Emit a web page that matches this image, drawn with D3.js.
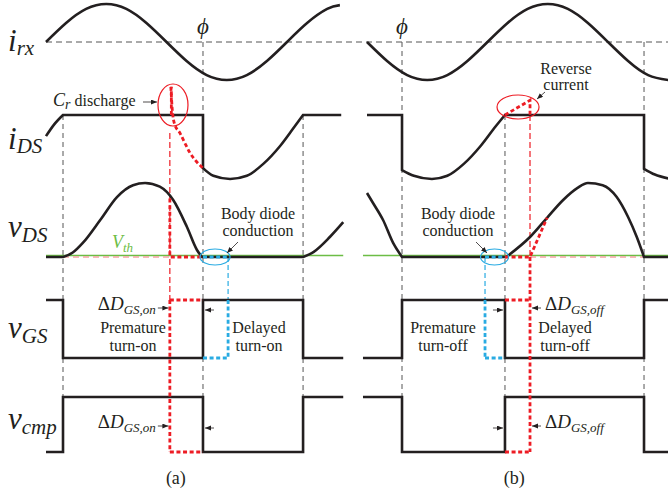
<!DOCTYPE html>
<html><head><meta charset="utf-8">
<script src="https://cdn.jsdelivr.net/npm/d3@7"></script>
<style>body{margin:0;background:#fff}svg{display:block;font-family:'Liberation Serif','Times New Roman',serif}</style>
</head><body><svg id="c" width="668" height="495"></svg>
<script>
// ================= DATA =================
const rowLabels = [["i","rx"],["i","DS"],["v","DS"],["v","GS"],["v","cmp"]];
const panelLabels = ["(a)","(b)"];

// event instants, in electrical degrees of each panel
const evA = {start:0, rise:25.4, phi:234.5, next:384, early:185, bodyEnd:272, end:444};
const evB = {start:174, first:180, phi:232.3, edge:386.1, next:593.8, late:423.5, bodyStart:356.3, end:630};

// receiver current i_rx (normalised)
const irxA = [[0,0],[30,0.5],[60,0.87],[90,1],[120,0.87],[150,0.5],[180,0],[210,-0.5],[240,-0.87],[270,-1],[300,-0.87],[330,-0.5],[360,0],[390,0.5],[420,0.87],[439,0.97]];
const irxB = [[180,0],[210,-0.5],[240,-0.87],[270,-1],[300,-0.87],[330,-0.5],[360,0],[390,0.5],[420,0.87],[450,1],[480,0.87],[510,0.5],[540,0],[570,-0.5],[600,-0.87],[630,-1]];

// drain current i_DS (1 = conduction level)
const idsA_rise   = [[0,0.67],[12,0.85],[25.4,1]];
const idsA_flat   = [[25.4,1],[234.5,1],[234.5,0.17]];
const idsA_valley = [[234.5,0.17],[250,0.05],[275,0],[300,0.05],[325,0.24],[350,0.52],[370,0.8],[384,1]];
const idsA_tail   = [[384,1],[441,1]];
const idsB_flat1  = [[180,1],[232.3,1],[232.3,0.14]];
const idsB_valley = [[232.3,0.14],[250,0.05],[277,0],[300,0.05],[325,0.24],[350,0.52],[372,0.82],[386.1,1]];
const idsB_flat2  = [[386.1,1],[593.8,1],[593.8,0.16]];
const idsB_tail   = [[593.8,0.16],[610,0.07],[630,0.01]];
const crDischarge = [[186.5,1.44],[188.5,1.1],[192,0.86],[200,0.72],[208,0.55],[215,0.41],[225,0.27],[234.5,0.17]];
const reverseCur  = [[386.1,1],[423.5,1.23],[423.5,1]];

// drain-source voltage v_DS (1 = peak)
const vdsA_pre  = [[0,0],[25.4,0]];
const vdsA_hump = [[25.4,0],[40,0.06],[55,0.19],[81,0.5],[106,0.81],[130,0.97],[148,1],[170,0.95],[190,0.77],[210.6,0.405],[225.5,0.095],[233,0]];
const vdsA_flat = [[233,0],[384,0]];
const vdsA_rise = [[384,0],[400,0.07],[424,0.27],[444,0.47]];
const vdsB_fall = [[180,0.865],[189,0.73],[204,0.5],[219,0.19],[232.3,0]];
const vdsB_flat = [[232.3,0],[388,0]];
const vdsB_hump = [[388,0],[423.5,0.27],[449,0.53],[473,0.77],[494,0.93],[510,1],[532,0.97],[553,0.81],[570,0.54],[583,0.27],[593.8,0]];
const vdsB_tail = [[593.8,0],[630,0]];
const vth = 0.02;
const vdsA_early = [[185,0.79],[185,0],[234.5,0]];
const vdsB_late  = [[386.1,0],[423.5,0],[449,0.53]];

// gate and comparator signals (0/1 step levels)
const vgsA  = [[0,1],[25.4,0],[234.5,1],[384,0],[444,0]];
const vcmpA = [[0,0],[25.4,1],[234.5,0],[384,1],[444,1]];
const vgsB  = [[174,0],[232.3,1],[386.1,0],[593.8,1],[630,1]];
const vcmpB = [[174,1],[232.3,0],[386.1,1],[593.8,0],[630,0]];

// ================= DRAWING =================
const svg = d3.select("#c");
const K = "#231f20", RED = "#ed1c24", BLUE = "#29abe2", GREEN = "#6cbd45", PINK = "#f4a3a3", GREY = "#555";
const SERIF = "'Liberation Serif','Times New Roman',serif";

const xA = d3.scaleLinear().domain([0,360]).range([46,287]);
const xB = d3.scaleLinear().domain([180,540]).range([367,608]);
const yRx  = d3.scaleLinear().domain([-1,1]).range([80,4]);
const yIds = d3.scaleLinear().domain([0,1]).range([179,115]);
const yVds = d3.scaleLinear().domain([0,1]).range([257,183]);
const yVgs = d3.scaleLinear().domain([0,1]).range([358,300]);
const yCmp = d3.scaleLinear().domain([0,1]).range([452,397]);

const defs = svg.append("defs");
defs.append("marker").attr("id","ah").attr("markerUnits","userSpaceOnUse")
  .attr("markerWidth",7).attr("markerHeight",6).attr("refX",6).attr("refY",2.5).attr("orient","auto")
  .append("path").attr("d","M0,0 L6,2.5 L0,5 Z").attr("fill",K);

function gen(x,y,curve){ return d3.line().x(d=>x(d[0])).y(d=>y(d[1])).curve(curve||d3.curveLinear); }
function joined(parts){
  return parts.map((p,i)=>{ let s = gen(p[1],p[2],p[3])(p[0]); return i? s.replace(/^M/,"L") : s; }).join("");
}
function path(d, stroke, w, dash){
  const p = svg.append("path").attr("d",d).attr("fill","none").attr("stroke",stroke)
    .attr("stroke-width",w).attr("stroke-linejoin","miter").attr("stroke-linecap","butt");
  if(dash) p.attr("stroke-dasharray",dash);
  return p;
}
function seg(x1,y1,x2,y2,stroke,w,dash){ return path(`M${x1},${y1}L${x2},${y2}`,stroke,w,dash); }
function arrow(x1,y1,x2,y2){ svg.append("line").attr("x1",x1).attr("y1",y1).attr("x2",x2).attr("y2",y2)
  .attr("stroke",K).attr("stroke-width",0.8).attr("marker-end","url(#ah)"); }

const mono = d3.curveMonotoneX, nat = d3.curveNatural;
const thinDash = "5,4", redThin = "6,3", thick = "4,2.6";

// --- dashed grey reference lines ---
seg(xA(0), yRx(0), 668, yRx(0), GREY, 1, "6,4");
[[xA,evA.rise,yIds(1)],[xA,evA.phi,yRx(0)],[xA,evA.next,yIds(1)],
 [xB,evB.phi,yRx(0)],[xB,evB.edge,yIds(1)],[xB,evB.next,yRx(0)]].forEach(([x,t,y0])=>{
  seg(x(t), y0, x(t), yCmp(0), GREY, 1, thinDash);
});

// --- red & blue thin dashed connectors ---
seg(xA(evA.early), yIds(0.72), xA(evA.early), yVgs(1), RED, 1.2, redThin);
seg(xB(evB.late), yIds(1), xB(evB.late), yVds(0), RED, 1.2, redThin);
seg(xA(evA.bodyEnd), yVds(0), xA(evA.bodyEnd), yVgs(1), BLUE, 1.2, "5,3");
seg(xB(evB.bodyStart), yVds(0), xB(evB.bodyStart), yVgs(1), BLUE, 1.2, "5,3");

// --- V_th green line and pink dashed lines ---
seg(xA(evA.start), yVds(vth), xA(evA.end), yVds(vth), GREEN, 1.4);
seg(xB(evB.start), yVds(vth), xB(evB.end), yVds(vth), GREEN, 1.4);
path(gen(xA,yVds)([[evA.rise,0],[evA.early,0]]), PINK, 1.5, "6,4");
path(gen(xB,yVds)([[evB.late,0],[evB.next,0]]), PINK, 1.5, "6,4");

// --- black waveforms ---
const W = 2.6;
path(gen(xA,yRx,nat)(irxA), K, W);
path(gen(xB,yRx,nat)(irxB), K, W);
path(joined([[idsA_rise,xA,yIds,mono],[idsA_flat,xA,yIds],[idsA_valley,xA,yIds,mono],[idsA_tail,xA,yIds]]), K, W);
path(joined([[idsB_flat1,xB,yIds],[idsB_valley,xB,yIds,mono],[idsB_flat2,xB,yIds],[idsB_tail,xB,yIds,mono]]), K, W);
path(joined([[vdsA_pre,xA,yVds],[vdsA_hump,xA,yVds,mono],[vdsA_flat,xA,yVds],[vdsA_rise,xA,yVds,mono]]), K, W);
path(joined([[vdsB_fall,xB,yVds,mono],[vdsB_flat,xB,yVds],[vdsB_hump,xB,yVds,mono],[vdsB_tail,xB,yVds]]), K, W);
const step = d3.curveStepAfter;
path(gen(xA,yVgs,step)(vgsA), K, W);
path(gen(xA,yCmp,step)(vcmpA), K, W);
path(gen(xB,yVgs,step)(vgsB), K, W);
path(gen(xB,yCmp,step)(vcmpB), K, W);

// --- thick red dotted (timing error) ---
const TW = 2.8;
path(gen(xA,yIds,mono)(crDischarge), RED, TW, thick);
seg(xA(evA.early)+1.5, yIds(1), xA(evA.early)+1.5, yIds(1.44), RED, TW, thick);
path(gen(xB,yIds)(reverseCur), RED, TW, thick);
path(gen(xA,yVds)(vdsA_early), RED, TW, thick);
path(gen(xB,yVds)(vdsB_late), RED, TW, thick);
seg(xA(evA.early), yVgs(1), xA(evA.phi), yVgs(1), RED, TW, thick);
seg(xA(evA.early), yVgs(1), xA(evA.early), yCmp(0), RED, TW, thick);
seg(xA(evA.early), yCmp(0), xA(evA.phi), yCmp(0), RED, TW, thick);
seg(xB(evB.edge), yVgs(1), xB(evB.late), yVgs(1), RED, TW, thick);
seg(xB(evB.late), yVds(0), xB(evB.late), yCmp(0), RED, TW, thick);
seg(xB(evB.edge), yCmp(0), xB(evB.late), yCmp(0), RED, TW, thick);

// --- thick blue dotted (body diode) ---
seg(xA(evA.phi), yVds(0), xA(evA.bodyEnd), yVds(0), BLUE, TW, thick);
seg(xA(evA.bodyEnd), yVgs(1), xA(evA.bodyEnd), yVgs(0), BLUE, TW, thick);
seg(xA(evA.phi), yVgs(0), xA(evA.bodyEnd), yVgs(0), BLUE, TW, thick);
seg(xB(evB.bodyStart), yVds(0), xB(evB.edge), yVds(0), BLUE, TW, thick);
seg(xB(evB.bodyStart), yVgs(1), xB(evB.bodyStart), yVgs(0), BLUE, TW, thick);
seg(xB(evB.bodyStart), yVgs(0), xB(evB.edge), yVgs(0), BLUE, TW, thick);

// --- ellipses ---
function ell(cx,cy,rx,ry,c){ svg.append("ellipse").attr("cx",cx).attr("cy",cy).attr("rx",rx).attr("ry",ry)
  .attr("fill","none").attr("stroke",c).attr("stroke-width",1.2); }
ell(xA(189.7), yIds(1.156), 15, 21, RED);
ell(xA(252.5), yVds(0), 15, 8, BLUE);
ell(xB(405.6), yIds(1.125), 21, 12, RED);
ell(xB(370.5), yVds(0), 14, 8, BLUE);

// --- text helpers ---
function txt(x,y,parts,opts){
  opts = opts||{};
  const t = svg.append("text").attr("x",x).attr("y",y).attr("font-family",SERIF)
    .attr("fill",opts.fill||K).attr("text-anchor",opts.anchor||"start");
  let prevDy = 0;
  parts.forEach(p=>{
    const s = t.append("tspan").text(p.s).attr("font-size",p.fs).attr("font-family",SERIF);
    if(p.it) s.attr("font-style","italic");
    const dy = (p.dy||0) - prevDy; if(dy) s.attr("dy",dy); prevDy = p.dy||0;
  });
  return t;
}

// row labels
const rowY = [[51,4],[149,4],[237,5],[338,5],[429,5]];
rowLabels.forEach((l,i)=>{
  txt(8, rowY[i][0], [{s:l[0],fs:31,it:1},{s:l[1],fs:21,it:1,dy:rowY[i][1]}]);
});

// phi labels
txt(xA(evA.phi), 34, [{s:"\u03D5",fs:23,it:1}], {anchor:"middle"});
txt(xB(evB.phi), 34, [{s:"\u03D5",fs:23,it:1}], {anchor:"middle"});

// C_r discharge
txt(53, 106, [{s:"C",fs:18,it:1},{s:"r",fs:14,it:1,dy:3},{s:" discharge",fs:16}]);
arrow(143, 102, 157, 102);

// Reverse current
txt(566, 74, [{s:"Reverse",fs:16}], {anchor:"middle"});
txt(566, 90, [{s:"current",fs:16}], {anchor:"middle"});
arrow(545, 92, 537, 99);

// V_th
txt(112, 248, [{s:"V",fs:18,it:1},{s:"th",fs:13,it:1,dy:4}], {fill:GREEN});

// Body diode conduction
[[258,238,242,227,253],[458,476,242,487,253]].forEach(([cx,ax1,ay1,ax2,ay2])=>{
  txt(cx, 219, [{s:"Body diode",fs:16}], {anchor:"middle"});
  txt(cx, 236, [{s:"conduction",fs:16}], {anchor:"middle"});
  arrow(ax1, ay1, ax2, ay2);
});

// Premature / Delayed
txt(133, 333, [{s:"Premature",fs:16}], {anchor:"middle"});
txt(133, 351, [{s:"turn-on",fs:16}], {anchor:"middle"});
txt(259, 333, [{s:"Delayed",fs:16}], {anchor:"middle"});
txt(259, 351, [{s:"turn-on",fs:16}], {anchor:"middle"});
txt(443, 333, [{s:"Premature",fs:16}], {anchor:"middle"});
txt(443, 351, [{s:"turn-off",fs:16}], {anchor:"middle"});
txt(565, 333, [{s:"Delayed",fs:16}], {anchor:"middle"});
txt(565, 351, [{s:"turn-off",fs:16}], {anchor:"middle"});

// Delta D labels
[yVgs(1)+10, yCmp(1)+31].forEach(y=>{
  const xe = xA(evA.early), xp = xA(evA.phi);
  txt(xe-14, y, [{s:"\u0394",fs:19},{s:"D",fs:19,it:1},{s:"GS,on",fs:13,it:1,dy:4}], {anchor:"end"});
  arrow(xe-12, y-2, xe-1.5, y-2);
  arrow(xp+11, y, xp+2, y);
  const xl = xB(evB.late), xd = xB(evB.edge);
  txt(xl+15, y, [{s:"\u0394",fs:19},{s:"D",fs:19,it:1},{s:"GS,off",fs:13,it:1,dy:4}]);
  arrow(xl+11, y-2, xl+2, y-2);
  arrow(xd-12, y, xd-2, y);
});

// panel captions
txt(xA(194), 484, [{s:panelLabels[0],fs:18}], {anchor:"middle"});
txt(xB(400), 484, [{s:panelLabels[1],fs:18}], {anchor:"middle"});
</script></body></html>
